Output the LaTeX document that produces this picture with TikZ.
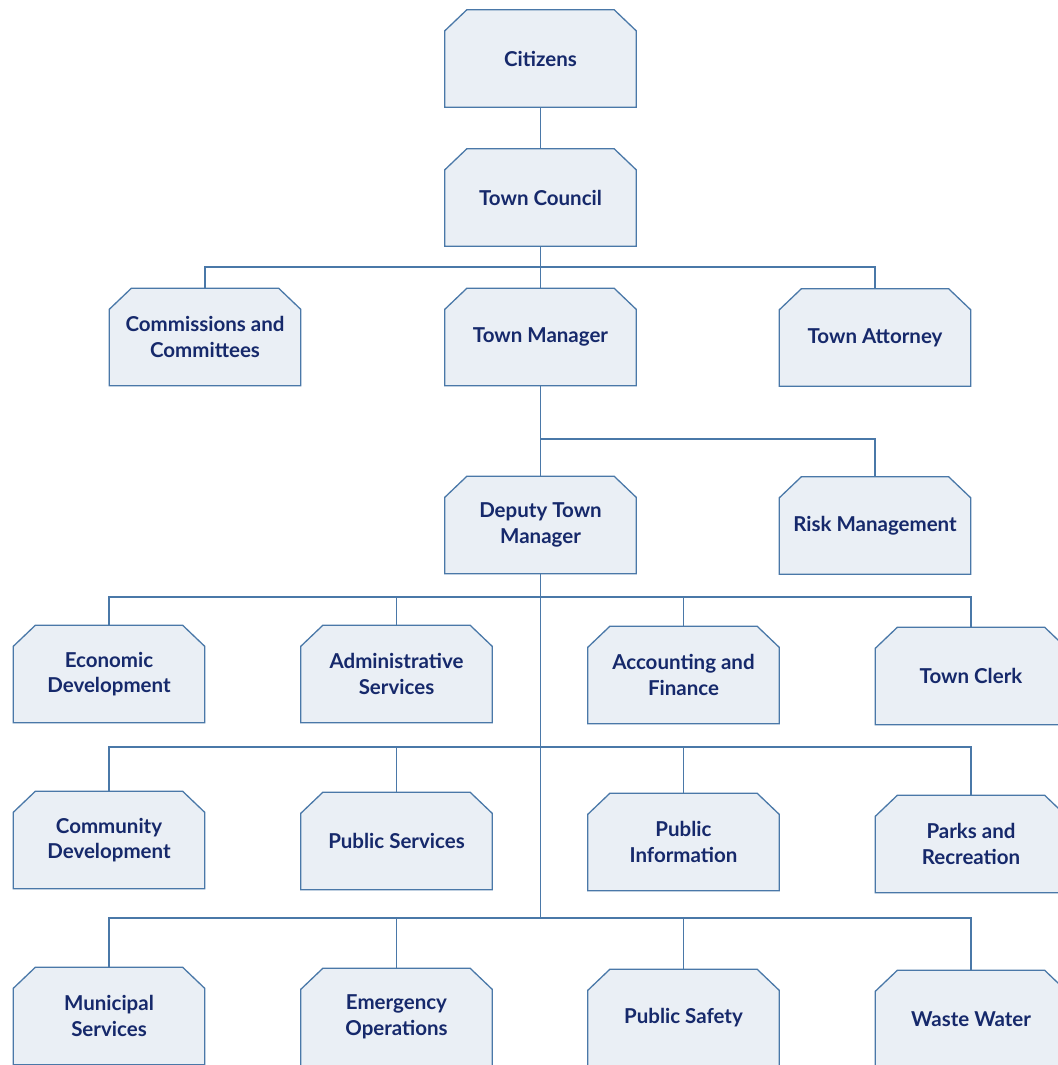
\documentclass[tikz,border=0pt]{standalone}
\usepackage{fontspec}
\setmainfont{Lato}
\usetikzlibrary{backgrounds}
\definecolor{boxline}{HTML}{4A78A8}
\definecolor{boxfill}{HTML}{EAEFF5}
\definecolor{boxtext}{HTML}{16296B}
\tikzset{
  orgbox/.style={rectangle, minimum width=191pt, minimum height=97pt, inner sep=0pt,
    text=boxtext, align=center, font=\fontsize{20.5}{25.5}\selectfont\bfseries},
  boxshape/.style={draw=boxline, line width=1.3pt, fill=boxfill, line join=miter},
  link/.style={draw=boxline, line width=1.3pt}
}
\begin{document}
\begin{tikzpicture}[x=1pt,y=-1pt]
\useasboundingbox (0,0) rectangle (1057,1065);
\node[orgbox] (cit) at (540.5,58.5) {Citizens};
\node[orgbox] (tc) at (540.5,197.5) {Town Council};
\node[orgbox] (cc) at (205,337) {Commissions and\\Committees};
\node[orgbox] (tm) at (540.5,337) {Town Manager};
\node[orgbox] (ta) at (875,337.5) {Town Attorney};
\node[orgbox] (dtm) at (540.5,525) {Deputy Town\\Manager};
\node[orgbox] (rm) at (875,525.5) {Risk Management};
\node[orgbox] (ed) at (109,674) {Economic\\Development};
\node[orgbox] (as) at (396.5,674) {Administrative\\Services};
\node[orgbox] (af) at (683.5,675) {Accounting and\\Finance};
\node[orgbox] (tcl) at (971,676) {Town Clerk};
\node[orgbox] (cd) at (109,840) {Community\\Development};
\node[orgbox] (ps) at (396.5,841) {Public Services};
\node[orgbox] (pi) at (683.5,842) {Public\\Information};
\node[orgbox] (pr) at (971,844) {Parks and\\Recreation};
\node[orgbox] (ms) at (109,1016) {Municipal\\Services};
\node[orgbox] (eo) at (396.5,1017) {Emergency\\Operations};
\node[orgbox] (psa) at (683.5,1018) {Public Safety};
\node[orgbox] (ww) at (971,1019) {Waste Water};
\begin{scope}[on background layer]
\foreach \n in {cit,tc,cc,tm,ta,dtm,rm,ed,as,af,tcl,cd,ps,pi,pr,ms,eo,psa,ww}{
  \path[boxshape] (\n.south west) -- ([yshift=-21pt]\n.north west)
    -- ([xshift=22pt]\n.north west) -- ([xshift=-22pt]\n.north east)
    -- ([yshift=-21pt]\n.north east) -- (\n.south east) -- cycle;
}
\end{scope}
\coordinate (j1) at (540.5,267);
\coordinate (j2) at (540.5,439);
\coordinate (j3) at (540.5,597);
\coordinate (j4) at (540.5,747);
\coordinate (j5) at (540.5,918);
\path[link] (cit.south) -- (tc.north);
\path[link] (tc.south) -- (tm.north);
\path[link] (j1) -| (cc.north);
\path[link] (j1) -| (ta.north);
\path[link] (tm.south) -- (dtm.north);
\path[link] (j2) -| (rm.north);
\path[link] (dtm.south) -- (j5);
\foreach \j/\a/\b/\c/\d in {j3/ed/as/af/tcl, j4/cd/ps/pi/pr, j5/ms/eo/psa/ww}{
  \path[link] (\j) -| (\a.north);
  \path[link] (\j) -| (\b.north);
  \path[link] (\j) -| (\c.north);
  \path[link] (\j) -| (\d.north);
}
\end{tikzpicture}
\end{document}
